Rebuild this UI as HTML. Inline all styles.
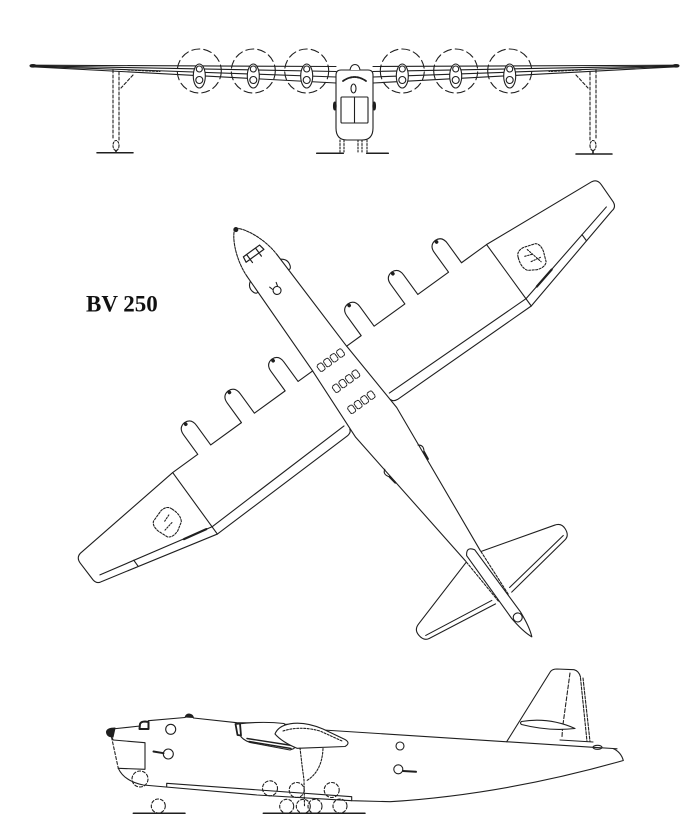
<!DOCTYPE html>
<html><head><meta charset="utf-8"><title>BV 250</title>
<style>html,body{margin:0;padding:0;background:#fff;}svg{display:block;}</style>
</head><body>
<svg width="700" height="840" viewBox="0 0 700 840" xmlns="http://www.w3.org/2000/svg">
<rect width="700" height="840" fill="#fff"/>
<g fill="none" stroke="#1f1f1f" stroke-width="1.1" stroke-linecap="round" stroke-linejoin="round">

<!-- ================= FRONT VIEW ================= -->
<g>
  <path d="M31,65.2 L336,66.5"/>
  <path d="M33,65.8 L336,71.5"/>
  <path d="M33,66.3 L336,77"/>
  <path d="M33,66.8 L336,83"/>
  <ellipse cx="33" cy="65.8" rx="3" ry="1.3" fill="#1f1f1f"/>
  <path d="M128,70 L160,71.5" stroke-dasharray="2 1.5"/>
  <path d="M113,70 L113,140 M119,72 L119,140" stroke-dasharray="3 2"/>
  <path d="M133,75 L121,88" stroke-dasharray="3 2"/>
  <ellipse cx="116" cy="145.5" rx="3" ry="5" stroke-dasharray="2 1.5"/>
  <path d="M116,150.5 L116,152.5" stroke-width="1.6"/>
  <path d="M97,152.7 L133,152.7" stroke-width="1.5"/>
  <circle cx="199.3" cy="71" r="22" stroke-dasharray="8 4"/>
  <circle cx="253.3" cy="71" r="22" stroke-dasharray="8 4"/>
  <circle cx="306.7" cy="71" r="22" stroke-dasharray="8 4"/>
  <g fill="#fff">
    <ellipse cx="199.3" cy="76" rx="6" ry="12"/>
    <circle cx="199.3" cy="69" r="3"/><circle cx="199.3" cy="80" r="3.5"/>
    <ellipse cx="253.3" cy="76" rx="6" ry="12"/>
    <circle cx="253.3" cy="69" r="3"/><circle cx="253.3" cy="80" r="3.5"/>
    <ellipse cx="306.7" cy="76" rx="6" ry="12"/>
    <circle cx="306.7" cy="69" r="3"/><circle cx="306.7" cy="80" r="3.5"/>
  </g>
</g>
<g transform="translate(709,0) scale(-1,1)">
  <path d="M31,65.2 L336,66.5"/>
  <path d="M33,65.8 L336,71.5"/>
  <path d="M33,66.3 L336,77"/>
  <path d="M33,66.8 L336,83"/>
  <ellipse cx="33" cy="65.8" rx="3" ry="1.3" fill="#1f1f1f"/>
  <path d="M128,70 L160,71.5" stroke-dasharray="2 1.5"/>
  <path d="M113,70 L113,140 M119,72 L119,140" stroke-dasharray="3 2"/>
  <path d="M133,75 L121,88" stroke-dasharray="3 2"/>
  <ellipse cx="116" cy="145.5" rx="3" ry="5" stroke-dasharray="2 1.5"/>
  <path d="M116,150.5 L116,153.5" stroke-width="1.6"/>
  <path d="M97,154 L133,154" stroke-width="1.5"/>
  <circle cx="199.3" cy="71" r="22" stroke-dasharray="8 4"/>
  <circle cx="253.3" cy="71" r="22" stroke-dasharray="8 4"/>
  <circle cx="306.7" cy="71" r="22" stroke-dasharray="8 4"/>
  <g fill="#fff">
    <ellipse cx="199.3" cy="76" rx="6" ry="12"/>
    <circle cx="199.3" cy="69" r="3"/><circle cx="199.3" cy="80" r="3.5"/>
    <ellipse cx="253.3" cy="76" rx="6" ry="12"/>
    <circle cx="253.3" cy="69" r="3"/><circle cx="253.3" cy="80" r="3.5"/>
    <ellipse cx="306.7" cy="76" rx="6" ry="12"/>
    <circle cx="306.7" cy="69" r="3"/><circle cx="306.7" cy="80" r="3.5"/>
  </g>
</g>
<!-- fuselage front -->
<path d="M336,75 Q336,70 341,70 L368,70 Q373,70 373,75 L373,128 Q373,140 362,140 L347,140 Q336,140 336,128 Z" fill="#fff"/>
<path d="M350,70 Q351,64.5 355,64.5 Q359,64.5 360,70" fill="#fff"/>
<path d="M343,81 Q354.5,73 366,81" stroke-width="1.8" stroke-dasharray="2.5 1.2"/>
<ellipse cx="353.5" cy="88.5" rx="2.5" ry="4.5"/>
<rect x="341" y="97" width="27" height="26" rx="1"/>
<path d="M354.5,97 L354.5,123"/>
<ellipse cx="334.8" cy="106" rx="1.3" ry="4" fill="#1f1f1f"/>
<ellipse cx="374.2" cy="106" rx="1.3" ry="4" fill="#1f1f1f"/>
<path d="M340,140 L340,152 M344,140 L344,152 M358,140 L358,152 M362,140 L362,152 M367,140 L367,152" stroke-dasharray="2 1.5"/>
<path d="M316.7,153.3 L343.3,153.3 M366.7,153.3 L388.3,153.3" stroke-width="1.5"/>

<!-- ================= PLAN VIEW ================= -->
<g transform="translate(235,228.3) rotate(-36)">
  <g>
    <path d="M21,161 L39,161 L39,137 Q39,128 47,127.5 Q55,128 55,137 L55,161 L93,161 L93,137 Q93,128 101,127.5 Q109,128 109,137 L109,161 L147,161 L147,137 Q147,128 155,127.5 Q163,128 163,137 L163,161 L194,161 L316,172 Q322,173 322,180 L321.5,201 Q321,207 315,207.5 L194,237 L31,234 Q26,233.5 25.2,230"/>
    <path d="M194,161 L194,237"/>
    <path d="M28,224 L194,228 L313,201"/>
    <path d="M277,209 L277,216.5"/>
    <path d="M210,224.5 L232,219.5" stroke-width="2.2"/>
    <circle cx="47" cy="129.5" r="1.3" fill="#1f1f1f"/>
    <circle cx="101" cy="129.5" r="1.3" fill="#1f1f1f"/>
    <circle cx="155" cy="129.5" r="1.3" fill="#1f1f1f"/>
    <path d="M212,190 Q214,184 222,185 L234,189 Q238,192 236,200 L232,210 Q228,214 220,211 L212,206 Q208,200 212,190 Z" stroke-dasharray="2 1.5"/>
    <path d="M218,193 L226,196 M220,201 L230,203 M224,189 L228,207" stroke-dasharray="1.5 1.5"/>
  </g>
  <g transform="scale(-1,1)">
    <path d="M21,161 L39,161 L39,137 Q39,128 47,127.5 Q55,128 55,137 L55,161 L93,161 L93,137 Q93,128 101,127.5 Q109,128 109,137 L109,161 L147,161 L147,137 Q147,128 155,127.5 Q163,128 163,137 L163,161 L194,161 L316,172 Q322,173 322,180 L321.5,201 Q321,207 315,207.5 L194,237 L31,234 Q26,233.5 25.2,230"/>
    <path d="M194,161 L194,237"/>
    <path d="M28,224 L194,228 L313,201"/>
    <path d="M277,209 L277,216.5"/>
    <path d="M200,226.5 L224,221.5" stroke-width="2.2"/>
    <circle cx="47" cy="129.5" r="1.3" fill="#1f1f1f"/>
    <circle cx="101" cy="129.5" r="1.3" fill="#1f1f1f"/>
    <circle cx="155" cy="129.5" r="1.3" fill="#1f1f1f"/>
    <path d="M216,190 Q218,184 226,185 L238,189 Q242,192 240,200 L236,210 Q232,214 224,211 L216,206 Q212,200 216,190 Z" stroke-dasharray="2 1.5"/>
    <path d="M222,193 L230,196 M224,201 L234,203" stroke-dasharray="1.5 1.5"/>
  </g>
  <!-- fuselage -->
  <path d="M-18.5,46 L-21,160 L-25.2,240 L-9,405"/>
  <path d="M18.5,46 L21,160 L25.5,240 L9,405"/>
  <path d="M-18.5,46 C-18,26 -8,5 0,0 C8,5 18,26 18.5,46" stroke-dasharray="2.5 1.2"/>
  <circle cx="0" cy="1.5" r="2" fill="#1f1f1f"/>
  <path d="M-10,28 L10,28 M-11,34 L11,34 M-6,28 L-6,38 M5,28 L5,38 M-10,28 L-11,34 M10,28 L11,34" stroke-width="1.2"/>
  <path d="M-19,52 Q-25,56 -22.5,63 Q-21,66 -19.3,65"/>
  <path d="M19,52 Q25,56 22.5,63 Q21,66 19.3,65"/>
  <circle cx="-2.5" cy="75" r="4"/>
  <path d="M-6.5,68 L-5.5,71.5 M1.5,68 L0.5,71.5"/>
  <g stroke-dasharray="1.6 1" stroke-width="1">
    <rect x="-15" y="159" width="6" height="8" rx="2"/><rect x="-7" y="159" width="6" height="8" rx="2"/>
    <rect x="1" y="159" width="6" height="8" rx="2"/><rect x="9" y="159" width="6" height="8" rx="2"/>
    <rect x="-15" y="185" width="6" height="8" rx="2"/><rect x="-7" y="185" width="6" height="8" rx="2"/>
    <rect x="1" y="185" width="6" height="8" rx="2"/><rect x="9" y="185" width="6" height="8" rx="2"/>
    <rect x="-15" y="211" width="6" height="8" rx="2"/><rect x="-7" y="211" width="6" height="8" rx="2"/>
    <rect x="1" y="211" width="6" height="8" rx="2"/><rect x="9" y="211" width="6" height="8" rx="2"/>
  </g>
  <path d="M-20.5,283 Q-25.5,286 -21,292"/>
  <path d="M-21,292 L-19.8,300" stroke-width="2"/>
  <path d="M20.7,283 Q25.7,286 21.5,292"/>
  <path d="M21.5,292 L20.5,300" stroke-width="2"/>
  <!-- tail -->
  <path d="M9,406 L84,428 Q91,430 90.5,437 Q90,445 84,446 L10,457"/>
  <path d="M11,452 L85,441.5"/>
  <path d="M-9,406 L-84,428 Q-91,430 -90.5,437 Q-90,445 -84,446 L-10,457"/>
  <path d="M-11,452 L-85,441.5"/>
  <path d="M-9,406 L-6,457 M9,406 L6,457" stroke-dasharray="2.5 1.5"/>
  <path d="M-5,401 Q0,393 5,401 L5.5,478 Q4,496 0,505 Q-4,496 -5.5,478 Z" fill="#fff"/>
  <circle cx="0" cy="481" r="4.5"/>
</g>

<!-- label -->
<text x="86" y="311.5" font-family="'Liberation Serif', serif" font-weight="bold" font-size="23" fill="#111" stroke="none">BV 250</text>

<!-- ================= SIDE VIEW ================= -->
<path d="M193.5,718 L236.7,722.7 L262,723 L290,724.5 L323.3,730 L593.3,747.3 L613,748.5 Q621,752 623.3,760.5 Q503.4,794.6 390,801.7 L351.7,800.7 L257,795 L143.3,785 Q124,781 118.3,768.3"/>
<path d="M112,729 L140,726"/>
<path d="M115,728 Q107,728 106.5,732 Q107,737 113,737 Z" fill="#1f1f1f"/>
<path d="M139.5,729 L140,724 Q141,721.5 145,721.5 L148.5,722 L148.5,729 Z" fill="#fff" stroke-width="2"/>
<path d="M148.3,720.7 L185,717.5"/>
<path d="M185,717.5 Q186,714 189,714 Q193,714.5 193.5,718" fill="#1f1f1f"/>
<path d="M111,736 L113.3,740 L145,742.7 L145,769.3 L118.3,768.3"/>
<path d="M111.5,737 L118.3,768.3" stroke-dasharray="3 2"/>
<path d="M166.7,787 L166.7,783.3 L351.7,796.7 L351.7,800.7"/>
<circle cx="170.7" cy="729.3" r="5"/>
<circle cx="168.3" cy="754" r="5"/>
<path d="M153.5,751.5 L163.5,753.2" stroke-width="2"/>
<circle cx="400" cy="746" r="4"/>
<circle cx="398.3" cy="769.3" r="4.5"/>
<path d="M403,771 L416,771.8" stroke-width="2"/>
<!-- nacelle & wing section -->
<path d="M238,724 Q262,721 284,723.5 L297,740 L294,748.5 L290,750 L250,742.5 Q242,739.5 240,735 Z" fill="#fff"/>
<path d="M235.5,724 L240,723.5 L241,735.5 L237.5,735 Z" fill="#fff" stroke-width="1.8"/>
<path d="M247,738.5 L292,745.5 M249,741.5 L291,748.5" stroke-width="1.4"/>
<path d="M275,734 Q278,726 290,723.8 Q305,721.3 323,729 L345,739.5 Q351,743 345,746.5 L297,748.3 Q282,742 275,734 Z" fill="#fff"/>
<path d="M283,731 Q300,725.5 320,731 L342,741" stroke-dasharray="2 1.5"/>
<!-- gear -->
<path d="M300,748 L302,765 L304,780 L304.5,806 M323,748.5 Q322,772 306,781" stroke-dasharray="2 1.5"/>
<g stroke-dasharray="3 2">
  <circle cx="140" cy="779" r="8"/>
  <circle cx="270" cy="788.3" r="7.5"/>
  <circle cx="296.7" cy="790" r="7.5"/>
  <circle cx="331.7" cy="790" r="7.5"/>
  <circle cx="158.3" cy="806" r="7"/>
  <circle cx="286.7" cy="806.3" r="7"/>
  <circle cx="303.3" cy="806.3" r="7"/>
  <circle cx="315" cy="806.3" r="7"/>
  <circle cx="340" cy="806" r="7"/>
</g>
<path d="M133.3,813.3 L185,813.3 M263.3,813.3 L365,813.3" stroke-width="1.5"/>
<!-- fin -->
<path d="M506.7,741.7 L550.5,671.5 Q552.5,669 557,669 L574,669.7 Q579,671 580.5,677"/>
<path d="M580.5,678 L587,741.5 M583,678 L590,741.5" stroke-dasharray="3 1.5"/>
<path d="M570,673 L562.5,728 L562,737" stroke-dasharray="4 2"/>
<path d="M521.5,721.5 Q549,717 575,728.5 Q549,731.5 521.5,724.5 Q519.5,723 521.5,721.5 Z" fill="#fff"/>
<path d="M560,740 L593,742"/>
<ellipse cx="597.5" cy="747.3" rx="4.5" ry="2"/>
<path d="M613,748.5 L617,748.8"/>
</g>
</svg>
</body></html>
